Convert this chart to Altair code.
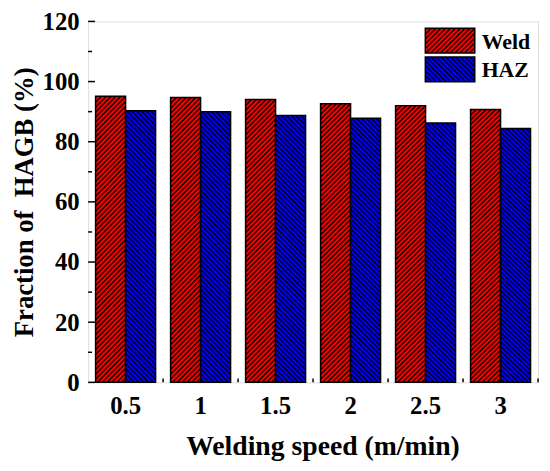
import base64
import altair as alt
import pandas as pd

# ---- data ----
speeds = ["0.5", "1", "1.5", "2", "2.5", "3"]
weld = [95.1, 94.7, 94.0, 92.6, 92.0, 90.7]
haz = [90.3, 90.0, 88.7, 87.8, 86.2, 84.4]
series = ["Weld", "HAZ"]
y_major = [0, 20, 40, 60, 80, 100, 120]
y_minor = [10, 30, 50, 70, 90, 110]

W, H = 455, 365
RED, BLUE = "#ff0000", "#0000ff"
FONT = "Liberation Serif"
PAD_IN, PAD_OUT = 0.2, 0.1
YMAX = 120

df = pd.DataFrame(
    [{"speed": s, "series": "Weld", "value": v} for s, v in zip(speeds, weld)]
    + [{"speed": s, "series": "HAZ", "value": v} for s, v in zip(speeds, haz)]
)
df_y = pd.DataFrame(
    [{"value": v, "kind": "major"} for v in y_major]
    + [{"value": v, "kind": "minor"} for v in y_minor]
)
df_x = pd.DataFrame({"speed": speeds})
df_leg = pd.DataFrame({"series": series})


def hatch_url(color, w, h, angle, period=4.9, black_frac=0.38):
    """SVG image of diagonal hatching (coloured ground, black stripes)."""
    p = round(period / 2 ** 0.5, 3)
    bw = round(p * black_frac, 3)
    w, h = round(w, 2), round(h, 2)
    svg = (
        f'<svg xmlns="http://www.w3.org/2000/svg" width="{w}" height="{h}" '
        f'viewBox="0 0 {w} {h}" preserveAspectRatio="none">'
        f'<defs><pattern id="p" width="{p}" height="{p}" '
        f'patternUnits="userSpaceOnUse" patternTransform="rotate({angle})">'
        f'<rect width="{p}" height="{p}" fill="{color}"/>'
        f'<rect width="{bw}" height="{p}" fill="#000"/></pattern></defs>'
        f'<rect width="{w}" height="{h}" fill="url(#p)"/></svg>'
    )
    return "data:image/svg+xml;base64," + base64.b64encode(svg.encode()).decode()


step = W / (len(speeds) - PAD_IN + 2 * PAD_OUT)
bar_w = step * (1 - PAD_IN) / 2
gap_half = step * PAD_IN / 2
h_weld = sum(weld) / len(weld) / YMAX * H
h_haz = sum(haz) / len(haz) / YMAX * H
img_weld = hatch_url(RED, bar_w, h_weld, 45)
img_haz = hatch_url(BLUE, bar_w, h_haz, -45)
leg_w, leg_h = 50, 25
leg_img_weld = hatch_url(RED, leg_w, leg_h, 45)
leg_img_haz = hatch_url(BLUE, leg_w, leg_h, -45)

XT = "Welding speed (m/min)"
YT = "Fraction of\u00a0 HAGB (%)"

x_enc = alt.X(
    "speed:N", sort=speeds, title=XT,
    scale=alt.Scale(paddingInner=PAD_IN, paddingOuter=PAD_OUT),
    axis=alt.Axis(labelAngle=0, domain=False, ticks=False, tickSize=0,
                  labelPadding=12, labelFont=FONT, labelFontWeight="bold",
                  labelFontSize=25, labelColor="black",
                  titleFont=FONT, titleFontWeight="bold", titleFontSize=28,
                  titleColor="black", titlePadding=14, titleX=237, grid=False),
)
y_enc = alt.Y(
    "value:Q", title=YT,
    scale=alt.Scale(domain=[0, YMAX], nice=False, zero=True),
    axis=alt.Axis(values=y_major, domain=False, ticks=False, tickSize=0,
                  labelPadding=9, labelFont=FONT, labelFontWeight="bold",
                  labelFontSize=25, labelColor="black",
                  titleFont=FONT, titleFontWeight="bold", titleFontSize=27,
                  titleColor="black", titlePadding=4, grid=False),
)
xoff = alt.XOffset("series:N", sort=series, scale=alt.Scale(domain=series))

bar_layers = []
for name, color, img in [("Weld", RED, img_weld), ("HAZ", BLUE, img_haz)]:
    sub = alt.Chart(df).transform_filter(f"datum.series === '{name}'")
    bar_layers.append(sub.mark_bar(fill=color).encode(x=x_enc, xOffset=xoff, y=y_enc))
    bar_layers.append(
        sub.mark_image(aspect=False).encode(
            x=x_enc, xOffset=xoff, y=y_enc, y2=alt.datum(0), url=alt.value(img))
    )
    bar_layers.append(
        sub.mark_bar(fill="transparent", stroke="black", strokeWidth=1.5)
        .encode(x=x_enc, xOffset=xoff, y=y_enc)
    )

# inward ticks
y_major_ticks = (
    alt.Chart(df_y).transform_filter("datum.kind === 'major'")
    .mark_rule(color="black", strokeWidth=1.5)
    .encode(y=y_enc, x=alt.value(0), x2=alt.value(7))
)
y_minor_ticks = (
    alt.Chart(df_y).transform_filter("datum.kind === 'minor'")
    .mark_rule(color="black", strokeWidth=1.5)
    .encode(y=y_enc, x=alt.value(0), x2=alt.value(4))
)
# ticks between groups: middle of the gap after each band
x_ticks = (
    alt.Chart(df_x)
    .mark_rule(color="black", strokeWidth=1.5, xOffset=gap_half)
    .encode(
        x=alt.X("speed:N", sort=speeds, title=XT, bandPosition=1),
        y=alt.value(H), y2=alt.value(H - 4),
    )
)

# hatched legend (top-right, inside the frame)
LX, LY, LGAP = 341, 7, 29
legend_layers = []
for i, (name, color, img) in enumerate(
        [("Weld", RED, leg_img_weld), ("HAZ", BLUE, leg_img_haz)]):
    sub = alt.Chart(df_leg).transform_filter(f"datum.series === '{name}'")
    box = dict(x=alt.value(LX), x2=alt.value(LX + leg_w),
               y=alt.value(LY + i * LGAP), y2=alt.value(LY + i * LGAP + leg_h))
    legend_layers.append(sub.mark_rect(fill=color).encode(**box))
    legend_layers.append(sub.mark_image(aspect=False).encode(url=alt.value(img), **box))
    legend_layers.append(
        sub.mark_rect(fill="transparent", stroke="black", strokeWidth=1.5).encode(**box))
    legend_layers.append(
        sub.mark_text(align="left", baseline="middle", font=FONT,
                      fontWeight="bold", fontSize=22, color="black").encode(
            text="series:N",
            x=alt.value(LX + leg_w + 7),
            y=alt.value(LY + i * LGAP + leg_h / 2 + 1))
    )

chart = (
    alt.layer(*bar_layers, y_major_ticks, y_minor_ticks, x_ticks, *legend_layers)
    .properties(width=W, height=H,
                autosize=alt.AutoSizeParams(type="none"),
                padding={"left": 81, "top": 11, "right": 4, "bottom": 80})
    .configure_view(stroke="black", strokeWidth=2)
    .configure(background="white")
)

chart.save("out.html", embed_options={"renderer": "svg", "actions": False})
